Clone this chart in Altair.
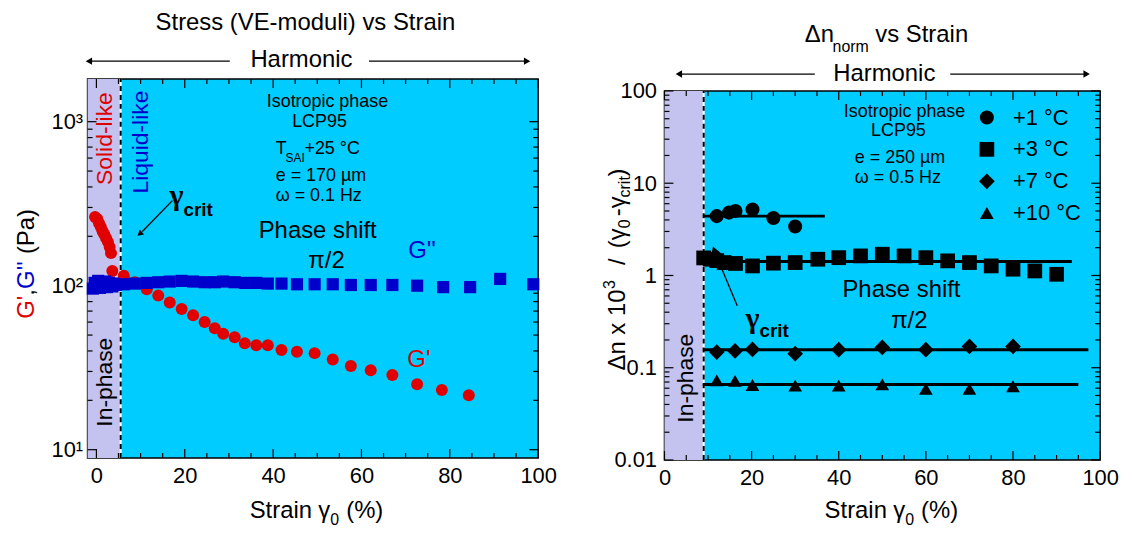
import math
import altair as alt
import pandas as pd

FONT = "Liberation Sans"
SERIF = "Liberation Serif"
CYAN = "#00CCFF"
LAV = "#C4C2EE"
RED = "#E00000"
BLUE = "#0000CC"
TICK_W = 1.2
MAJ, MIN = 9, 5

# ---------------- left panel data : G', G'' vs strain ----------------
gp_strain = [-0.3, 0.2, 0.6, 1.0, 1.4, 1.8, 2.2, 2.6, 3.0, 3.3, 3.6, 6.2, 8.7, 11.4, 14.0, 16.6,
             19.3, 21.9, 24.5, 26.8, 28.7, 31.3, 33.6, 36.2, 38.8, 41.9, 45.4, 49.4, 53.5, 57.6,
             62.1, 67.0, 72.6, 78.2, 84.3]
gp_mod = [262, 255, 240, 228, 215, 205, 195, 185, 172, 158, 123, 115, 105, 95, 87, 79,
          72, 66, 60, 55, 51, 48.5, 44.5, 43.3, 43.3, 40.5, 39.6, 38.8, 35.5, 32.4,
          30.5, 28.5, 25.1, 23.1, 21.5]
gpp_strain = [-0.8, -0.4, 0.0, 0.4, 0.8, 1.2, 1.6, 2.0, 2.4, 2.8, 3.2, 3.6, 4.0, 4.4,
              6.2, 8.7, 11.4, 14.0, 16.6, 19.3, 21.9, 24.5, 26.8, 28.7, 31.3, 33.6, 36.2, 38.8, 41.9,
              45.4, 49.4, 53.5, 57.6, 62.1, 67.0, 72.6, 78.5, 84.6, 91.4, 98.9]
gpp_mod = [96, 104, 99, 107, 97, 103, 100, 106, 98, 104, 101, 99, 103, 101,
           102, 103, 104, 105, 106, 107, 106, 105, 105, 106, 105, 104, 104, 103, 103,
           102, 102, 102, 101, 101, 101, 100, 98, 98, 110, 102]
left_crit = 5.5
LX_DOM = [-2, 100]
LY_DOM = [8.9, 1820]

# ---------------- right panel data : normalised birefringence ----------------
c1_strain = [12, 14.8, 16.3, 20.2, 25, 30]
c1_val = [4.4, 4.8, 5.0, 5.2, 4.2, 3.4]
c3_strain = [9, 10.5, 12, 13.7, 16.3, 20.2, 25, 30, 35.2, 40, 45, 50, 55, 60, 65, 70, 75, 80, 85, 90]
c3_val = [1.55, 1.5, 1.45, 1.38, 1.35, 1.27, 1.36, 1.38, 1.5, 1.56, 1.63, 1.70, 1.63, 1.56,
          1.44, 1.38, 1.27, 1.17, 1.12, 1.03]
c7_strain = [12, 16.2, 20.2, 30, 40, 50, 60, 70, 80]
c7_val = [0.148, 0.152, 0.158, 0.142, 0.157, 0.166, 0.157, 0.170, 0.170]
c10_strain = [12, 16.2, 20.2, 30, 40, 50, 60, 70, 80]
c10_val = [0.073, 0.072, 0.065, 0.064, 0.064, 0.066, 0.059, 0.059, 0.063]
# fit lines: level, start strain, end strain
fit_level = [4.4, 1.42, 0.157, 0.0657]
fit_start = [8.8, 8.8, 8.8, 8.8]
fit_end = [36.8, 93.5, 97.3, 95.0]
legend_labels = ["+1 °C", "+3 °C", "+7 °C", "+10 °C"]
legend_y = [51.5, 23.3, 10.5, 4.75]
right_crit = 9.0
RX_DOM = [0, 100]
RY_DOM = [0.01, 100]

# tick positions
x_major = [0, 20, 40, 60, 80, 100]
x_minor = [5, 10, 15, 25, 30, 35, 45, 50, 55, 65, 70, 75, 85, 90, 95]
ly_major = [10, 100, 1000]
ly_minor = [20, 30, 40, 50, 60, 70, 80, 90, 200, 300, 400, 500, 600, 700, 800, 900]
ry_major = [0.01, 0.1, 1, 10, 100]
ry_minor = [0.02, 0.03, 0.04, 0.05, 0.06, 0.07, 0.08, 0.09,
            0.2, 0.3, 0.4, 0.5, 0.6, 0.7, 0.8, 0.9,
            2, 3, 4, 5, 6, 7, 8, 9, 20, 30, 40, 50, 60, 70, 80, 90]

W1, H1 = 453, 381
W2, H2 = 438, 371

LX = alt.Scale(domain=LX_DOM, nice=False, zero=False)
LY = alt.Scale(type="log", domain=LY_DOM, nice=False)
RX = alt.Scale(domain=RX_DOM, nice=False, zero=False)
RY = alt.Scale(type="log", domain=RY_DOM, nice=False)


def tlayer(texts, xs, ys, xsc, ysc, size, color="black", angle=0, align="center",
           baseline="middle", font=FONT, weight="normal"):
    df = pd.DataFrame({"t": texts, "x": xs, "y": ys})
    return alt.Chart(df).mark_text(fontSize=size, color=color, angle=angle, align=align,
                                   baseline=baseline, font=font, fontWeight=weight).encode(
        x=alt.X("x:Q", scale=xsc, axis=None), y=alt.Y("y:Q", scale=ysc, axis=None), text="t:N")


def ptext(t, px, py, size, color="black", angle=0, align="left", baseline="alphabetic",
          font=FONT, weight="normal"):
    return alt.Chart(pd.DataFrame({"t": [t]})).mark_text(
        fontSize=size, color=color, angle=angle, align=align, baseline=baseline,
        font=font, fontWeight=weight).encode(x=alt.value(px), y=alt.value(py), text="t:N")


def points(xs, ys, xsc, ysc, shape, size, color):
    df = pd.DataFrame({"x": xs, "y": ys})
    return alt.Chart(df).mark_point(shape=shape, size=size, filled=True, color=color,
                                    opacity=1, strokeWidth=0).encode(
        x=alt.X("x:Q", scale=xsc, axis=None), y=alt.Y("y:Q", scale=ysc, axis=None))


def tick_rules(xsc, ysc, xdom, ydom, W, H, xmaj, xmin, ymaj, ymin):
    """Inward ticks on all four edges; both ends given in data units through the scales."""
    layers = []
    dec = math.log10(ydom[1] / ydom[0])
    for vals, size in [(xmaj, MAJ), (xmin, MIN)]:
        f = 10 ** (size * dec / H)
        n = len(vals)
        bdf = pd.DataFrame({"bv": vals, "bb": [ydom[0] * f] * n, "ba": [ydom[0]] * n})
        tdf = pd.DataFrame({"tv": vals, "t0": [ydom[1]] * n, "t1": [ydom[1] / f] * n})
        layers.append(alt.Chart(bdf).mark_rule(color="black", strokeWidth=TICK_W).encode(
            x=alt.X("bv:Q", scale=xsc, axis=None), y=alt.Y("bb:Q", scale=ysc, axis=None), y2="ba:Q"))
        layers.append(alt.Chart(tdf).mark_rule(color="black", strokeWidth=TICK_W).encode(
            x=alt.X("tv:Q", scale=xsc, axis=None), y=alt.Y("t0:Q", scale=ysc, axis=None), y2="t1:Q"))
    for vals, size in [(ymaj, MAJ), (ymin, MIN)]:
        d = size * (xdom[1] - xdom[0]) / W
        n = len(vals)
        ldf = pd.DataFrame({"lv": vals, "l0": [xdom[0]] * n, "l1": [xdom[0] + d] * n})
        rdf = pd.DataFrame({"rv": vals, "r0": [xdom[1]] * n, "r1": [xdom[1] - d] * n})
        layers.append(alt.Chart(ldf).mark_rule(color="black", strokeWidth=TICK_W).encode(
            y=alt.Y("lv:Q", scale=ysc, axis=None), x=alt.X("l0:Q", scale=xsc, axis=None), x2="l1:Q"))
        layers.append(alt.Chart(rdf).mark_rule(color="black", strokeWidth=TICK_W).encode(
            y=alt.Y("rv:Q", scale=ysc, axis=None), x=alt.X("r0:Q", scale=xsc, axis=None), x2="r1:Q"))
    return layers


def harmonic(xsc, a1, b1, a2, b2, py):
    df = pd.DataFrame({"a": [a1, a2], "b": [b1, b2]})
    rule = alt.Chart(df).mark_rule(color="black", strokeWidth=1.3).encode(
        x=alt.X("a:Q", scale=xsc, axis=None), x2="b:Q", y=alt.value(py))
    h1 = alt.Chart(pd.DataFrame({"x": [a1]})).mark_point(
        shape="triangle-left", filled=True, color="black", size=55, opacity=1).encode(
        x=alt.X("x:Q", scale=xsc, axis=None), y=alt.value(py))
    h2 = alt.Chart(pd.DataFrame({"x": [b2]})).mark_point(
        shape="triangle-right", filled=True, color="black", size=55, opacity=1).encode(
        x=alt.X("x:Q", scale=xsc, axis=None), y=alt.value(py))
    return [rule, h1, h2]


def band_and_dash(xsc, ysc, xdom, ydom, crit, xaxis, yaxis):
    band = alt.Chart(pd.DataFrame({"x0": [xdom[0]], "x1": [crit], "y0": [ydom[0]], "y1": [ydom[1]]})
                     ).mark_rect(color=LAV).encode(
        x=alt.X("x0:Q", scale=xsc, axis=xaxis), x2="x1:Q",
        y=alt.Y("y0:Q", scale=ysc, axis=yaxis), y2="y1:Q")
    ddf = pd.DataFrame({"x": [crit], "y0": [ydom[0]], "y1": [ydom[1]]})
    w = alt.Chart(ddf).mark_rule(color="white", strokeWidth=2).encode(
        x=alt.X("x:Q", scale=xsc, axis=None), y=alt.Y("y0:Q", scale=ysc, axis=None), y2="y1:Q")
    b = alt.Chart(ddf).mark_rule(color="black", strokeWidth=2, strokeDash=[5, 4]).encode(
        x=alt.X("x:Q", scale=xsc, axis=None), y=alt.Y("y0:Q", scale=ysc, axis=None), y2="y1:Q")
    return [band, w, b]


# ================= LEFT PANEL =================
lx_axis = alt.Axis(orient="bottom", values=x_major, ticks=False, tickSize=0, domain=False, grid=False,
                   title=None, labelFont=FONT, labelFontSize=22, labelPadding=8, labelColor="black",
                   labelFlush=False, labelOverlap=False)
ly_axis = alt.Axis(orient="left", values=ly_major, ticks=False, tickSize=0, domain=False,
                   grid=False, title=None, labelFont=FONT, labelFontSize=22, labelPadding=5,
                   labelColor="black", labelFlush=False, labelOverlap=False,
                   labelExpr="datum.value == 10 ? '10¹' : (datum.value == 100 ? '10²' : '10³')")

left_layers = band_and_dash(LX, LY, LX_DOM, LY_DOM, left_crit, lx_axis, ly_axis)
left_layers += tick_rules(LX, LY, LX_DOM, LY_DOM, W1, H1, x_major, x_minor, ly_major, ly_minor)
left_layers += [
    points(gp_strain, gp_mod, LX, LY, "circle", 145, RED),
    points(gpp_strain, gpp_mod, LX, LY, "square", 150, BLUE),
    tlayer(["Isotropic phase", "LCP95"], [52.3, 50.5], [1322, 1000], LX, LY, 18),
    tlayer(["T", "e = 170 µm", "ω = 0.1 Hz"], [40.6, 40.6, 40.6], [686, 464, 351], LX, LY, 18, align="left"),
    tlayer(["SAI"], [42.8], [597], LX, LY, 12, align="left"),
    tlayer(["+25 °C"], [47.1], [686], LX, LY, 18, align="left"),
    tlayer(["Phase shift", "π/2"], [50.1, 52.1], [215, 142], LX, LY, 24),
    tlayer(["G''"], [73.7], [163], LX, LY, 24, color=BLUE),
    tlayer(["G'"], [73.0], [35.1], LX, LY, 24, color=RED),
    tlayer(["Solid-like"], [1.9], [789], LX, LY, 23, color=RED, angle=270),
    tlayer(["Liquid-like"], [10.2], [751], LX, LY, 23, color=BLUE, angle=270),
    tlayer(["In-phase"], [1.9], [25.8], LX, LY, 23, angle=270),
    tlayer(["γ"], [18.1], [351], LX, LY, 30, font=SERIF, weight="bold"),
    tlayer(["crit"], [19.7], [288], LX, LY, 19, align="left", weight="bold"),
    alt.Chart(pd.DataFrame({"x": [17.2], "y": [330], "x2": [10.4], "y2": [214]})).mark_rule(
        color="black", strokeWidth=1.3).encode(
        x=alt.X("x:Q", scale=LX, axis=None), y=alt.Y("y:Q", scale=LY, axis=None), x2="x2:Q", y2="y2:Q"),
    alt.Chart(pd.DataFrame({"x": [9.8], "y": [207]})).mark_point(
        shape="triangle-up", filled=True, color="black", size=45, opacity=1, angle=230).encode(
        x=alt.X("x:Q", scale=LX, axis=None), y=alt.Y("y:Q", scale=LY, axis=None)),
    # titles and axis titles
    ptext("Stress (VE-moduli) vs Strain", 219, -56, 24, align="center", baseline="middle"),
    ptext("Harmonic", 215, -19, 24, align="center", baseline="middle"),
    ptext("G'", -61, 241, 24, color=RED, angle=270, baseline="middle"),
    ptext(",", -61, 218, 24, angle=270, baseline="middle"),
    ptext("G''", -61, 211, 24, color=BLUE, angle=270, baseline="middle"),
    ptext("(Pa)", -61, 176, 24, angle=270, baseline="middle"),
    ptext("Strain", 163, 441, 24),
    ptext("γ", 232, 441, 24),
    ptext("0", 244, 448, 16),
    ptext("(%)", 260, 441, 24),
]
left_layers += harmonic(LX, -1.7, 30.2, 61.7, 97.5, -18)

left = alt.layer(*left_layers).properties(
    width=W1, height=H1,
    view=alt.ViewBackground(fill=CYAN, stroke="black", strokeWidth=1.5)
).resolve_axis(x="independent", y="independent")

# ================= RIGHT PANEL =================
rx_axis = alt.Axis(orient="bottom", values=x_major, ticks=False, tickSize=0, domain=False, grid=False,
                   title=None, labelFont=FONT, labelFontSize=22, labelPadding=8, labelColor="black",
                   labelFlush=False, labelOverlap=False)
ry_axis = alt.Axis(orient="left", values=ry_major, ticks=False, tickSize=0, domain=False,
                   grid=False, title=None, labelFont=FONT, labelFontSize=22, labelPadding=8,
                   labelColor="black", labelFlush=False, labelOverlap=False, format="~g")

fit_df = pd.DataFrame({"lvl": fit_level, "a": fit_start, "b": fit_end})
right_layers = band_and_dash(RX, RY, RX_DOM, RY_DOM, right_crit, rx_axis, ry_axis)
right_layers += tick_rules(RX, RY, RX_DOM, RY_DOM, W2, H2, x_major, x_minor, ry_major, ry_minor)
right_layers += [
    alt.Chart(fit_df).mark_rule(color="black", strokeWidth=3).encode(
        x=alt.X("a:Q", scale=RX, axis=None), x2="b:Q", y=alt.Y("lvl:Q", scale=RY, axis=None)),
    points(c1_strain, c1_val, RX, RY, "circle", 200, "black"),
    points(c3_strain, c3_val, RX, RY, "square", 220, "black"),
    points(c7_strain, c7_val, RX, RY, "diamond", 250, "black"),
    points(c10_strain, c10_val, RX, RY, "triangle-up", 190, "black"),
    points([74.0], [legend_y[0]], RX, RY, "circle", 200, "black"),
    points([74.0], [legend_y[1]], RX, RY, "square", 220, "black"),
    points([74.0], [legend_y[2]], RX, RY, "diamond", 250, "black"),
    points([74.0], [legend_y[3]], RX, RY, "triangle-up", 190, "black"),
    tlayer(legend_labels, [80.0] * 4, legend_y, RX, RY, 22, align="left"),
    tlayer(["Isotropic phase", "LCP95"], [55.1, 53.7], [59.8, 36.4], RX, RY, 18),
    tlayer(["e = 250 µm", "ω = 0.5 Hz"], [43.7, 43.7], [18.6, 11.3], RX, RY, 18, align="left"),
    tlayer(["Phase shift", "π/2"], [54.4, 56.2], [0.70, 0.324], RX, RY, 24),
    tlayer(["In-phase"], [4.9], [0.077], RX, RY, 23, angle=270),
    tlayer(["γ"], [20.2], [0.333], RX, RY, 30, font=SERIF, weight="bold"),
    tlayer(["crit"], [21.8], [0.247], RX, RY, 19, align="left", weight="bold"),
    alt.Chart(pd.DataFrame({"x": [16.7], "y": [0.471], "x2": [12.0], "y2": [1.6]})).mark_rule(
        color="black", strokeWidth=1.3).encode(
        x=alt.X("x:Q", scale=RX, axis=None), y=alt.Y("y:Q", scale=RY, axis=None), x2="x2:Q", y2="y2:Q"),
    alt.Chart(pd.DataFrame({"x": [11.5], "y": [1.85]})).mark_point(
        shape="triangle-up", filled=True, color="black", size=120, opacity=1, angle=340).encode(
        x=alt.X("x:Q", scale=RX, axis=None), y=alt.Y("y:Q", scale=RY, axis=None)),
    ptext("Δn", 141, -49, 24),
    ptext("norm", 169, -39, 16),
    ptext("vs Strain", 212, -49, 24),
    ptext("Harmonic", 221, -17, 24, align="center", baseline="middle"),
    ptext("Δn x 10", -40, 281, 24, angle=270),
    ptext("3", -50, 199, 16, angle=270),
    ptext("/", -40, 175, 24, angle=270),
    ptext("(", -40, 158, 24, angle=270),
    ptext("γ", -40, 150, 24, angle=270),
    ptext("0", -35, 138, 16, angle=270),
    ptext("-γ", -40, 126, 24, angle=270),
    ptext("crit", -35, 107, 16, angle=270),
    ptext(")", -40, 86, 24, angle=270),
    ptext("Strain", 161, 429, 24),
    ptext("γ", 230, 429, 24),
    ptext("0", 242, 436, 16),
    ptext("(%)", 258, 429, 24),
]
right_layers += harmonic(RX, 3.3, 34.5, 65.6, 96.9, -17)

right = alt.layer(*right_layers).properties(
    width=W2, height=H2,
    view=alt.ViewBackground(fill=CYAN, stroke="black", strokeWidth=1.5)
).resolve_axis(x="independent", y="independent")

spacer = alt.Chart(pd.DataFrame({"a": [1]})).mark_point(opacity=0).encode(
    x=alt.X("a:Q", axis=None), y=alt.Y("a:Q", axis=None)
).properties(width=W2, height=1, view=alt.ViewBackground(fill="transparent", stroke="transparent"))

right_col = alt.vconcat(spacer, right, spacing=11, bounds="flush")

chart = alt.hconcat(left, right_col, spacing=127, bounds="flush").properties(
    padding={"left": 6, "top": 1, "right": 5, "bottom": 5}
).configure_axis(grid=False)

chart.save("out.html", embed_options={"renderer": "svg", "actions": False})
